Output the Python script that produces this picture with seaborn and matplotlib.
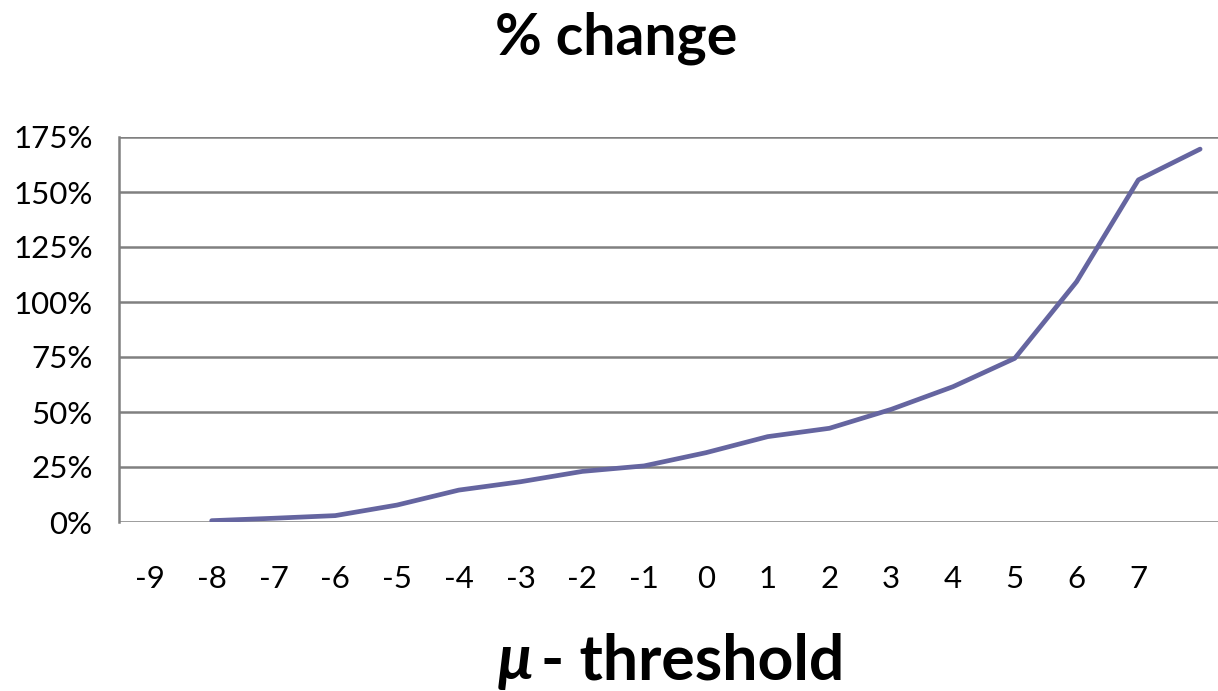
import numpy as np
import pandas as pd
import matplotlib
matplotlib.use("Agg")
import matplotlib.pyplot as plt
import seaborn as sns

# data
thresholds = ["-9", "-8", "-7", "-6", "-5", "-4", "-3", "-2", "-1", "0",
              "1", "2", "3", "4", "5", "6", "7", "8"]
tick_labels = thresholds[:-1] + [""]   # last category shown without label
pct_change = [np.nan, 0.6, 1.7, 2.9, 7.7, 14.5, 18.3, 23.0, 25.5, 31.5,
              38.8, 42.6, 51.2, 61.5, 74.4, 109.2, 155.5, 169.5]
y_ticks = [0, 25, 50, 75, 100, 125, 150, 175]

df = pd.DataFrame({"pos": np.arange(len(thresholds)), "pct": pct_change})

sns.set_style("white")
plt.rcParams["font.family"] = ["Lato", "DejaVu Sans"]

W, H = 1218, 691
fig = plt.figure(figsize=(W / 100, H / 100), dpi=100)
# plot area: left 119px, bottom at 522px, top at 137px, extends past right edge
ax = fig.add_axes([119 / W, (H - 522) / H, (1231 - 119) / W, (522 - 137) / H])

grid_col = "#808080"
for yv in y_ticks:
    ax.axhline(yv, color=grid_col, lw=1.8, zorder=1)

sns.lineplot(data=df, x="pos", y="pct", color="#6565A0", lw=3.4, ax=ax, zorder=3)

ax.set_xlim(-0.5, len(thresholds) - 0.5)
ax.set_ylim(0, 175)
ax.set_yticks(y_ticks)
ax.set_yticklabels([f"{v}%" for v in y_ticks], fontsize=22.5, color="black")
ax.set_xticks(np.arange(len(thresholds)))
ax.set_xticklabels(tick_labels, fontsize=22.5, color="black")
ax.tick_params(axis="x", length=0, pad=31)
ax.tick_params(axis="y", length=7, width=1.8, color=grid_col, pad=12)
ax.set_xlabel("")
ax.set_ylabel("")

for side in ["top", "right", "bottom"]:
    ax.spines[side].set_visible(False)
ax.spines["left"].set_color(grid_col)
ax.spines["left"].set_linewidth(1.8)

fig.text(616 / W, 1 - 38 / H, "% change", ha="center", va="center",
         fontsize=41, fontweight="bold", color="black")
fig.text(533 / W, 1 - 662 / H, "μ", ha="right", va="center",
         fontsize=45, fontweight="bold", style="italic", color="black")
fig.text(541 / W, 1 - 662 / H, "- threshold", ha="left", va="center",
         fontsize=45, fontweight="bold", color="black")

fig.savefig("out.png", dpi=100)
